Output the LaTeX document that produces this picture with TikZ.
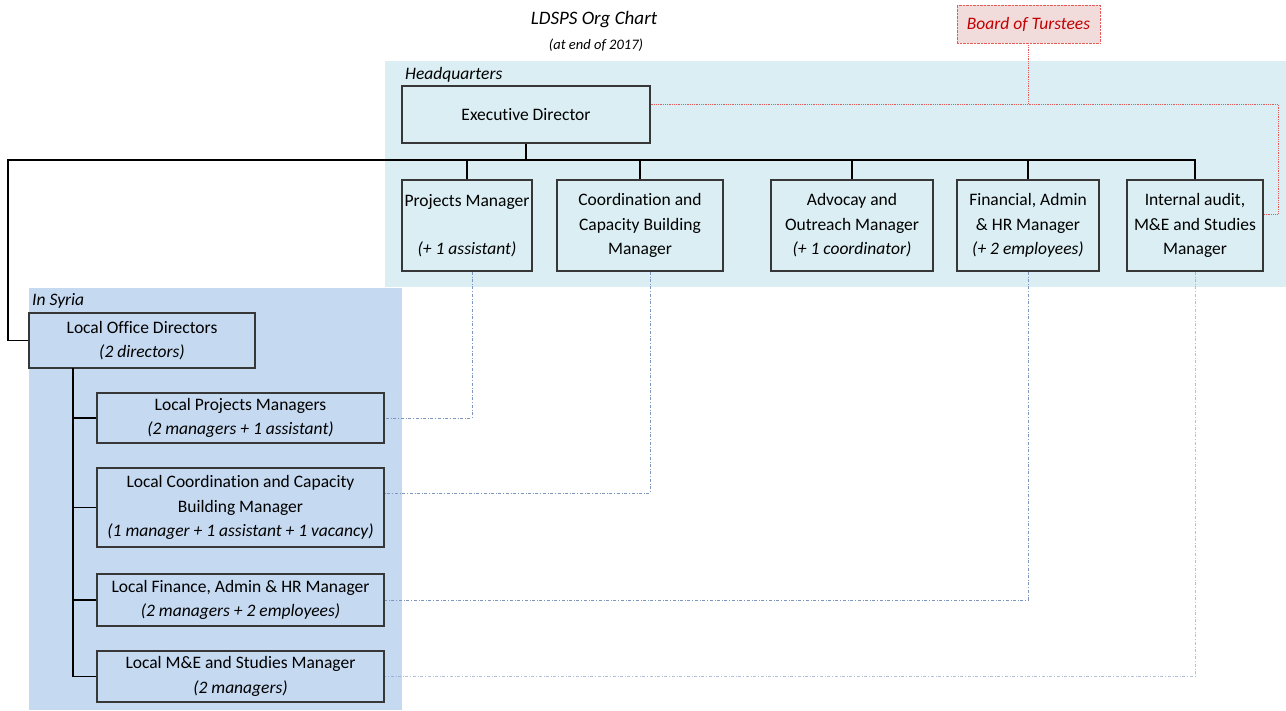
\documentclass[tikz,border=0pt]{standalone}
\usepackage{fontspec}
\setmainfont{Carlito}[Ligatures=NoCommon]
\usepackage{tikz}
\usetikzlibrary{calc}
\definecolor{hqblue}{RGB}{218,238,243}
\definecolor{syriablue}{RGB}{197,217,241}
\definecolor{boardfill}{RGB}{242,220,219}
\definecolor{boardred}{RGB}{192,0,0}
\definecolor{boardline}{RGB}{230,90,90}
\definecolor{liaisonblue}{RGB}{127,150,191}
\definecolor{boxline}{RGB}{55,55,55}
\tikzset{orgbox/.style={draw=boxline, line width=1.3pt, align=center,
        inner sep=0pt, font=\fontsize{17.5}{24.5}\selectfont},
    board/.style={draw=boardline, densely dotted, fill=boardfill, align=center,
        font=\fontsize{17.5}{24.5}\selectfont\itshape, text=boardred},
    orgline/.style={draw=black, line width=1.1pt},
    boardlink/.style={draw=boardline, densely dotted, line width=0.8pt},
    liaison/.style={draw=liaisonblue, dash dot, line width=0.8pt}}
\begin{document}
\begin{tikzpicture}[x=1pt,y=-1pt]
        \useasboundingbox (0,0) rectangle (1286,710);
        % backgrounds
        \fill[hqblue] (385,61) rectangle (1286,287);
        \fill[syriablue] (29,288) rectangle (402,710);
        \node[font=\fontsize{19}{22}\selectfont\itshape] (title) at (594,20) {LDSPS Org Chart};
        \node[font=\fontsize{14.5}{18}\selectfont\itshape] (subtitle) at (596,45) {(at end of 2017)};
        \node[anchor=west, inner sep=0pt, font=\fontsize{17.5}{20}\selectfont\itshape] (hq) at (405,75) {Headquarters};
        \node[anchor=west, inner sep=0pt, font=\fontsize{17.5}{20}\selectfont\itshape] (syria) at (32,301) {In Syria};
        \node[board, minimum width=143, minimum height=38] (board) at (1028.5,24) {Board of Turstees};
        % headquarters
        \node[orgbox, minimum width=248, minimum height=57] (ed) at (526,114.5) {Executive Director};
        \node[orgbox, minimum width=130, minimum height=91] (pm) at (467,225.5)
        {Projects Manager\\[24pt]\textit{(+ 1 assistant)}};
        \node[orgbox, minimum width=166, minimum height=91] (ccb) at (640,225.5)
        {Coordination and\\Capacity Building\\Manager};
        \node[orgbox, minimum width=162, minimum height=91] (adv) at (852,225.5)
        {Advocay and\\Outreach Manager\\\textit{(+ 1 coordinator)}};
        \node[orgbox, minimum width=142, minimum height=91] (fin) at (1028,225.5)
        {Financial, Admin\\\& HR Manager\\\textit{(+ 2 employees)}};
        \node[orgbox, minimum width=136, minimum height=91] (ia) at (1195,225.5)
        {Internal audit,\\M\&E and Studies\\Manager};
        % in syria
        \node[orgbox, minimum width=226, minimum height=55] (lod) at (142,340.5)
        {Local Office Directors\\\textit{(2 directors)}};
        \node[orgbox, minimum width=287, minimum height=50] (lpm) at (240.5,418)
        {Local Projects Managers\\\textit{(2 managers + 1 assistant)}};
        \node[orgbox, minimum width=287, minimum height=79] (lccb) at (240.5,507.5)
        {Local Coordination and Capacity\\Building Manager\\\textit{(1 manager + 1 assistant + 1 vacancy)}};
        \node[orgbox, minimum width=287, minimum height=52] (lfin) at (240.5,600)
        {Local Finance, Admin \& HR Manager\\\textit{(2 managers + 2 employees)}};
        \node[orgbox, minimum width=287, minimum height=51] (lme) at (240.5,676.5)
        {Local M\&E and Studies Manager\\\textit{(2 managers)}};
        % reporting lines
        \coordinate (busL) at (8,160);
        \coordinate (spine) at (73,368);
        \draw[orgline] (ed.south) -- (ed.south |- busL);
        \draw[orgline] (lod.west) -| (busL) -| (ia.north);
        \foreach \n in {pm,ccb,adv,fin}
            \draw[orgline] (\n.north) -- (\n.north |- busL);
        \draw[orgline] (spine) |- (lme.west);
        \foreach \n in {lpm,lccb,lfin}
            \draw[orgline] (\n.west) -- (\n.west -| spine);
        % board links
        \coordinate (bend) at (1278,104);
        \draw[boardlink] ([yshift=10.5pt]ed.east) -- (bend) |- ([yshift=11.5pt]ia.east);
        \draw[boardlink] (board.south) -- (board.south |- bend);
        % functional links
        \draw[liaison] ([xshift=5pt]pm.south) |- (lpm.east);
        \draw[liaison] ([xshift=10pt]ccb.south) |- ([yshift=14.5pt]lccb.east);
        \draw[liaison] (fin.south) |- (lfin.east);
        \draw[liaison, opacity=0.6] (ia.south) |- (lme.east);
      \end{tikzpicture}
\end{document}
